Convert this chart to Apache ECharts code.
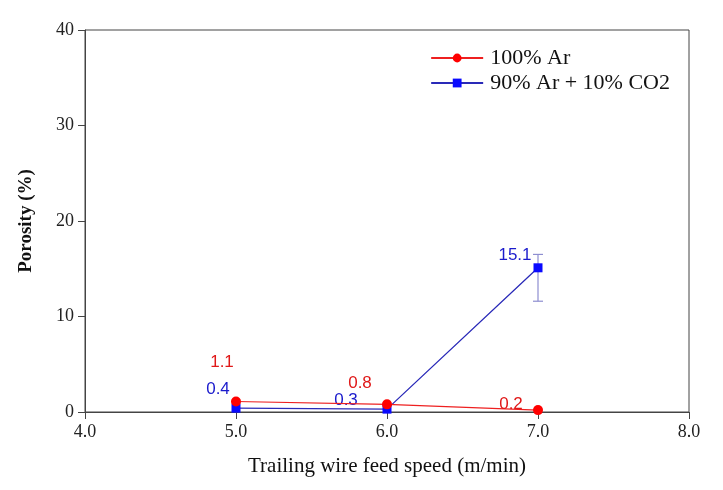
<!DOCTYPE html>
<html><head><meta charset="utf-8">
<script src="https://cdn.jsdelivr.net/npm/echarts@6/dist/echarts.min.js"></script>
<style>html,body{margin:0;padding:0;background:#fff}#c{width:723px;height:490px}</style>
</head><body><div id="c"></div>
<script>
const speeds = [5.0, 6.0, 7.0];
const arValues = [1.1, 0.8, 0.2];
const mixValues = [0.4, 0.3, 15.1];
const mixErrLow = [null, null, 11.6];
const mixErrHigh = [null, null, 16.5];
const xTicks = [4.0, 5.0, 6.0, 7.0, 8.0];
const yTicks = [0, 10, 20, 30, 40];
const seriesNames = ['100% Ar', '90% Ar + 10% CO2'];

const arOffsets = [[-14, -39], [-27, -21], [-27, -6]];
const mixOffsets = [[-18, -19], [-41, -9], [-23, -12]];

function pts(vals, offs, color) {
  return speeds.map((x, i) => ({
    value: [x, vals[i]],
    label: { show: true, position: 'inside', offset: offs[i], color: color,
      fontFamily: 'Liberation Sans, Arial', fontSize: 17,
      formatter: () => vals[i].toFixed(1) }
  }));
}

const errData = speeds.map((x, i) => [x, mixErrLow[i], mixErrHigh[i]]).filter(d => d[1] != null);

const chart = echarts.init(document.getElementById('c'));
const tickFont = { fontFamily: 'Liberation Serif, Times New Roman', fontSize: 18, color: '#222' };
chart.setOption({
  animation: false,
  backgroundColor: '#fff',
  grid: { left: 85, right: 34, top: 30, bottom: 78, show: true, borderColor: '#444', borderWidth: 1 },
  legend: {
    right: 48, top: 42, orient: 'vertical', itemWidth: 52, itemHeight: 11, itemGap: 3,
    textStyle: { fontFamily: 'Liberation Serif, Times New Roman', fontSize: 22, color: '#111', padding: [0, 0, 0, 2] },
    data: [seriesNames[0], seriesNames[1]]
  },
  xAxis: {
    type: 'value', min: 4, max: 8, interval: 1,
    name: 'Trailing wire feed speed (m/min)', nameLocation: 'middle', nameGap: 44,
    nameTextStyle: { fontFamily: 'Liberation Serif, Times New Roman', fontSize: 21, color: '#111' },
    axisLine: { lineStyle: { color: '#444' } },
    axisTick: { show: true, inside: false, length: 7, lineStyle: { color: '#444' } },
    splitLine: { show: false },
    axisLabel: Object.assign({ formatter: v => xTicks.includes(v) ? v.toFixed(1) : '', margin: 11 }, tickFont)
  },
  yAxis: {
    type: 'value', min: 0, max: 40, interval: 10,
    name: 'Porosity (%)', nameLocation: 'middle', nameGap: 49,
    nameTextStyle: { fontFamily: 'Liberation Serif, Times New Roman', fontSize: 19, color: '#111', fontWeight: 'bold' },
    axisLine: { show: true, lineStyle: { color: '#444' } },
    axisTick: { show: true, inside: false, length: 7, lineStyle: { color: '#444' } },
    splitLine: { show: false },
    axisLabel: Object.assign({ formatter: v => yTicks.includes(v) ? String(v) : '', margin: 11 }, tickFont)
  },
  series: [
    {
      name: seriesNames[1], type: 'line', data: pts(mixValues, mixOffsets, '#1a1acc'),
      symbol: 'rect', symbolSize: 9, itemStyle: { color: '#0a0aff' },
      lineStyle: { color: '#2a2ab8', width: 1.3 }, z: 3
    },
    {
      name: seriesNames[0], type: 'line', data: pts(arValues, arOffsets, '#e01818'),
      symbol: 'circle', symbolSize: 10, itemStyle: { color: '#ff0000' },
      lineStyle: { color: '#ee2020', width: 1.2 }, z: 4
    },
    {
      type: 'custom', data: errData, z: 2, silent: true,
      renderItem: function (params, api) {
        const x = api.value(0);
        const lo = api.coord([x, api.value(1)]);
        const hi = api.coord([x, api.value(2)]);
        const w = 5;
        const style = { stroke: '#8e8ed0', lineWidth: 1.2 };
        return { type: 'group', children: [
          { type: 'line', shape: { x1: lo[0], y1: lo[1], x2: hi[0], y2: hi[1] }, style },
          { type: 'line', shape: { x1: lo[0] - w, y1: lo[1], x2: lo[0] + w, y2: lo[1] }, style },
          { type: 'line', shape: { x1: hi[0] - w, y1: hi[1], x2: hi[0] + w, y2: hi[1] }, style }
        ]};
      }
    }
  ]
});
</script></body></html>
